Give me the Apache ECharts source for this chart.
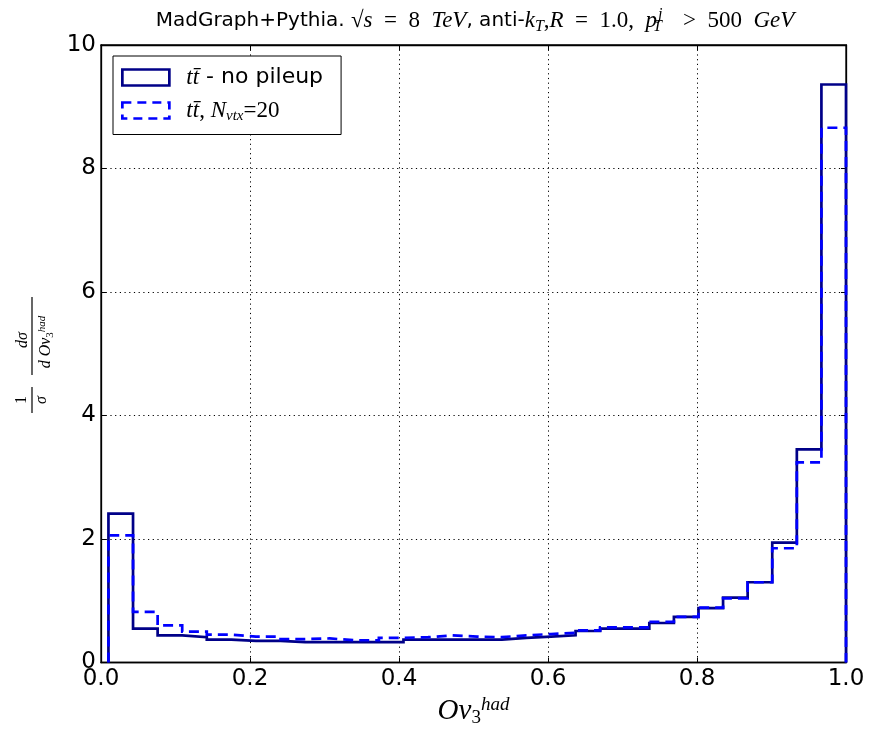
<!DOCTYPE html>
<html><head><meta charset="utf-8">
<script src="https://cdn.jsdelivr.net/npm/echarts@6/dist/echarts.min.js"></script>
<style>html,body{margin:0;padding:0;background:#fff}#c{width:873px;height:738px}</style>
</head><body><div id="c"></div>
<script>
// Histogram bins: 30 equal bins from 0.01 to 1.0
const binLow = 0.01, binHigh = 1.0, nBins = 30;
// normalized 1/sigma dsigma/dOv3 per bin
const noPileup = [2.41,0.55,0.44,0.41,0.37,0.35,0.35,0.33,0.33,0.33,0.33,0.33,0.37,0.37,0.37,0.37,0.40,0.42,0.44,0.51,0.55,0.55,0.64,0.74,0.88,1.05,1.30,1.94,3.45,9.36];
const nvtx20   = [2.06,0.82,0.60,0.50,0.45,0.42,0.42,0.38,0.39,0.36,0.36,0.40,0.41,0.44,0.42,0.41,0.44,0.46,0.48,0.52,0.57,0.57,0.66,0.74,0.89,1.04,1.30,1.85,3.24,8.66];
const xTickStep = 0.2, yTickStep = 2;
const xRange = [0, 1], yRange = [0, 10];
const seriesNames = ['no pileup', 'Nvtx=20'];

function stepPoints(vals) {
  const w = (binHigh - binLow) / nBins;
  const pts = [[binLow, 0]];
  vals.forEach((v, i) => { pts.push([binLow + i * w, v], [binLow + (i + 1) * w, v]); });
  pts.push([binHigh, 0]);
  return pts;
}

const SERIF = 'Liberation Serif';
const SANS = 'DejaVu Sans';
const solidColor = '#000088', dashColor = '#0000ff';

const chart = echarts.init(document.getElementById('c'), null, {renderer: 'canvas'});

const N = {fontWeight: 'normal', color: '#000'};
const titleRich = {
  a:   Object.assign({fontFamily: SANS, fontSize: 20, lineHeight: 28}, N),
  r:   Object.assign({fontFamily: SERIF, fontSize: 23, lineHeight: 28}, N),
  m:   Object.assign({fontFamily: SERIF, fontStyle: 'italic', fontSize: 23, lineHeight: 28}, N),
  sub: Object.assign({fontFamily: SERIF, fontStyle: 'italic', fontSize: 16, lineHeight: 15, verticalAlign: 'bottom'}, N),
  subz:Object.assign({fontFamily: SERIF, fontStyle: 'italic', fontSize: 16, lineHeight: 15, verticalAlign: 'bottom', width: 1}, N),
  sup: Object.assign({fontFamily: SERIF, fontStyle: 'italic', fontSize: 16, lineHeight: 15, verticalAlign: 'top', padding: [0, 9, 0, 0]}, N)
};

const legendRich = {
  m:   {fontFamily: SERIF, fontStyle: 'italic', fontSize: 23, lineHeight: 26, color: '#000', padding: [0,0,0,12]},
  mm:  {fontFamily: SERIF, fontStyle: 'italic', fontSize: 23, lineHeight: 26, color: '#000'},
  r:   {fontFamily: SERIF, fontSize: 23, lineHeight: 26, color: '#000'},
  s:   {fontFamily: SANS, fontSize: 22, lineHeight: 26, color: '#000'},
  sub: {fontFamily: SERIF, fontStyle: 'italic', fontSize: 15, lineHeight: 15, verticalAlign: 'bottom', color: '#000'}
};

const option = {
  animation: false,
  backgroundColor: '#fff',
  title: {
    left: 475, top: 7, padding: 0, textAlign: 'center',
    text: '{a|MadGraph+Pythia. }{r|√}{m|s}{r|  =  8  }{m|TeV}{a|, anti-}{m|k}{sub|T}{r|,}{m|R}{r|  =  1.0,  }{m|p}{subz|T}{sup|j}{r|  >  500  }{m|GeV}',
    textStyle: {fontWeight: 'normal', rich: titleRich}
  },
  grid: {left: 101, right: 27, top: 45, bottom: 75.5, show: true, borderColor: '#000', borderWidth: 1.3, backgroundColor: 'transparent'},
  legend: {
    orient: 'vertical', left: 113, top: 56, padding: [10, 18, 11, 8], itemGap: 10,
    itemWidth: 47, itemHeight: 16,
    borderColor: '#000', borderWidth: 1, backgroundColor: '#fff', borderRadius: 0,
    data: [
      {name: seriesNames[0], icon: 'rect', itemStyle: {color: 'rgba(0,0,0,0)', borderColor: solidColor, borderWidth: 2.7}},
      {name: seriesNames[1], icon: 'rect', itemStyle: {color: 'rgba(0,0,0,0)', borderColor: dashColor, borderWidth: 2.7, borderType: [9, 6]}}
    ],
    formatter: function (name) {
      if (name === seriesNames[0]) return '{m|tt̄}{s| - no pileup}';
      return '{m|tt̄}{r|, }{mm|N}{sub|vtx}{r|=20}';
    },
    textStyle: {rich: legendRich}
  },
  xAxis: [{
    type: 'value', min: xRange[0], max: xRange[1], interval: xTickStep, position: 'bottom',
    axisLine: {show: true, onZero: false, lineStyle: {color: '#000', width: 1.3}},
    axisTick: {show: true, inside: true, length: 5, lineStyle: {color: '#000'}},
    axisLabel: {fontFamily: SANS, fontSize: 23, color: '#000', margin: 5, formatter: v => v.toFixed(1)},
    splitLine: {show: true, lineStyle: {color: '#000', width: 1, type: [1.2, 3.5]}},
    name: '{m|Ov}{sub|3}{sup|had}', nameLocation: 'middle', nameGap: 32,
    nameTextStyle: {rich: {
      m: {fontFamily: SERIF, fontStyle: 'italic', fontSize: 29, lineHeight: 32, color: '#000'},
      sub: {fontFamily: SERIF, fontSize: 19, lineHeight: 17, verticalAlign: 'bottom', color: '#000'},
      sup: {fontFamily: SERIF, fontStyle: 'italic', fontSize: 19, lineHeight: 17, verticalAlign: 'top', color: '#000'}
    }}
  }, {
    type: 'value', min: xRange[0], max: xRange[1], interval: xTickStep, position: 'top',
    axisLine: {show: true, onZero: false, lineStyle: {color: '#000', width: 1.3}},
    axisTick: {show: true, inside: true, length: 5, lineStyle: {color: '#000'}},
    axisLabel: {show: false}, splitLine: {show: false}
  }],
  yAxis: [{
    type: 'value', min: yRange[0], max: yRange[1], interval: yTickStep, position: 'left',
    axisLine: {show: true, onZero: false, lineStyle: {color: '#000', width: 1.3}},
    axisTick: {show: true, inside: true, length: 5, lineStyle: {color: '#000'}},
    axisLabel: {fontFamily: SANS, fontSize: 23, color: '#000', margin: 5},
    splitLine: {show: true, lineStyle: {color: '#000', width: 1, type: [1.2, 3.5]}}
  }, {
    type: 'value', min: yRange[0], max: yRange[1], interval: yTickStep, position: 'right',
    axisLine: {show: true, onZero: false, lineStyle: {color: '#000', width: 1.3}},
    axisTick: {show: true, inside: true, length: 5, lineStyle: {color: '#000'}},
    axisLabel: {show: false}, splitLine: {show: false}
  }],
  series: [{
    name: seriesNames[0], type: 'line', xAxisIndex: 0, yAxisIndex: 0,
    data: stepPoints(noPileup), showSymbol: false, symbol: 'none', clip: false,
    lineStyle: {color: solidColor, width: 2.7, join: 'miter'}, itemStyle: {color: solidColor}, z: 3
  }, {
    name: seriesNames[1], type: 'line', xAxisIndex: 0, yAxisIndex: 0,
    data: stepPoints(nvtx20), showSymbol: false, symbol: 'none', clip: false,
    lineStyle: {color: dashColor, width: 2.7, type: [10, 6], join: 'miter'}, itemStyle: {color: dashColor}, z: 4
  }],
  graphic: [{
    type: 'group', x: 32, y: 400, rotation: Math.PI / 2,
    children: [
      {type: 'line', shape: {x1: -13, y1: 0, x2: 13, y2: 0}, style: {stroke: '#000', lineWidth: 1.2}},
      {type: 'text', x: 0, y: -10, style: {text: '1', font: '16px "' + SERIF + '"', fill: '#000', align: 'center', verticalAlign: 'middle'}},
      {type: 'text', x: 0, y: 10, style: {text: 'σ', font: 'italic 16px "' + SERIF + '"', fill: '#000', align: 'center', verticalAlign: 'middle'}},
      {type: 'line', shape: {x1: 25, y1: 0, x2: 103, y2: 0}, style: {stroke: '#000', lineWidth: 1.2}},
      {type: 'text', x: 60, y: -9, style: {text: 'dσ', font: 'italic 16px "' + SERIF + '"', fill: '#000', align: 'center', verticalAlign: 'middle'}},
      {type: 'text', x: 58, y: 14, style: {
        text: '{m|d Ov}{sub|3}{sup|had}', align: 'center', verticalAlign: 'middle',
        rich: {
          m: {fontFamily: SERIF, fontStyle: 'italic', fontSize: 16, lineHeight: 19, fill: '#000'},
          sub: {fontFamily: SERIF, fontSize: 11, lineHeight: 11, verticalAlign: 'bottom', fill: '#000'},
          sup: {fontFamily: SERIF, fontStyle: 'italic', fontSize: 11, lineHeight: 11, verticalAlign: 'top', fill: '#000'}
        }
      }}
    ]
  }]
};
chart.setOption(option);
</script>
</body></html>
